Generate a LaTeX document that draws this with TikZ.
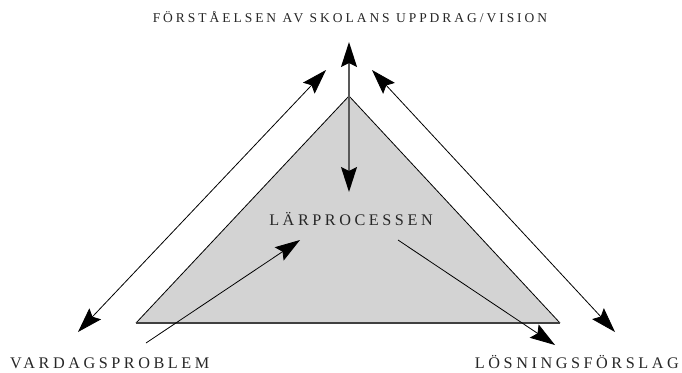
\documentclass[tikz,border=0pt]{standalone}
\usepackage{fontspec}
\usetikzlibrary{arrows.meta}
\newfontfamily\trackedfont{Liberation Serif}[LetterSpace=22]
\definecolor{trifill}{HTML}{D3D3D3}
\begin{document}
\begin{tikzpicture}[x=1pt,y=-1pt,
  label text/.style={font=\trackedfont\fontsize{16.2}{18}\selectfont, text=black!85, inner sep=0pt},
  title text/.style={label text, font=\trackedfont\fontsize{13.5}{15}\selectfont},
  bigtip/.style={-{Stealth[length=25pt,width=16pt,inset=4pt,color=black]}},
  bigtips/.style={{Stealth[length=25pt,width=16pt,inset=4pt,color=black]}-{Stealth[length=25pt,width=16pt,inset=4pt,color=black]}},
  thin line/.style={line width=0.8pt}]
  \useasboundingbox (0,0) rectangle (682,372);

  % corners of the shaded triangle
  \coordinate (apex) at (349,96);
  \coordinate (bl) at (136,323);
  \coordinate (br) at (560,323);
  \fill[trifill] (apex) -- (bl) -- (br) -- cycle;
  \draw[thin line] (bl) -- (apex) -- (br);
  \draw[line width=1.4pt, black!75] (bl) -- (br);

  % labels
  \node[title text, anchor=base] (vision) at (350,22) {FÖRSTÅELSEN AV SKOLANS UPPDRAG/VISION};
  \node[label text, anchor=base] (larp) at (351,225) {LÄRPROCESSEN};
  \node[label text, anchor=base west] (vardag) at (10,368) {VARDAGSPROBLEM};
  \node[label text, anchor=base east] (losn) at (679,368) {LÖSNINGSFÖRSLAG};

  % arrow end points
  \coordinate (vtop) at (349,42);
  \coordinate (vbot) at (349,192);
  \coordinate (ltop) at (326,70);
  \coordinate (lbot) at (78,332);
  \coordinate (rtop) at (372,70);
  \coordinate (rbot) at (615,332);
  \coordinate (inlstart) at (146,343);
  \coordinate (inltip) at (300,240);
  \coordinate (inrstart) at (398,240);
  \coordinate (inrtip) at (555,345);

  % connectors
  \draw[bigtips, line width=1.5pt, black!65] (vtop) -- (vbot);
  \draw[bigtips, thin line] (ltop) -- (lbot);
  \draw[bigtips, thin line] (rtop) -- (rbot);
  \draw[bigtip, thin line] (inlstart) -- (inltip);
  \draw[bigtip, thin line] (inrstart) -- (inrtip);
\end{tikzpicture}
\end{document}
